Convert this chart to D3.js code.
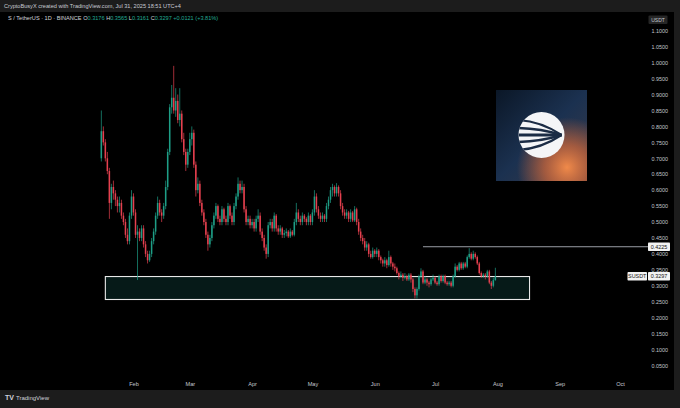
<!DOCTYPE html>
<html><head><meta charset="utf-8">
<script src="https://cdn.jsdelivr.net/npm/d3@7"></script>
<style>html,body{margin:0;padding:0;background:#1c1c1c;}svg{display:block;font-family:"Liberation Sans",Arial,sans-serif;}</style>
</head><body>
<svg id="c" width="680" height="408"></svg>
<script>
// ---- data ----
const firstDay = "2025-01-16";
const opens = [0.70,0.785,0.75,0.70,0.66,0.56,0.61,0.59,0.57,0.55,0.56,0.52,0.50,0.46,0.44,0.52,0.58,0.53,0.46,0.47,0.45,0.48,0.43,0.40,0.38,0.40,0.44,0.47,0.52,0.56,0.53,0.52,0.55,0.61,0.72,0.86,0.89,0.85,0.88,0.82,0.84,0.76,0.72,0.68,0.72,0.76,0.78,0.68,0.60,0.62,0.56,0.53,0.50,0.46,0.43,0.45,0.49,0.52,0.55,0.51,0.50,0.54,0.51,0.50,0.55,0.52,0.50,0.55,0.58,0.62,0.60,0.61,0.54,0.50,0.51,0.49,0.50,0.48,0.51,0.52,0.47,0.45,0.42,0.40,0.49,0.50,0.48,0.52,0.48,0.47,0.48,0.46,0.465,0.47,0.455,0.47,0.46,0.50,0.53,0.51,0.50,0.52,0.51,0.50,0.52,0.50,0.53,0.58,0.54,0.52,0.51,0.52,0.51,0.55,0.57,0.60,0.61,0.59,0.61,0.59,0.55,0.53,0.52,0.53,0.51,0.53,0.505,0.54,0.50,0.47,0.45,0.44,0.42,0.43,0.40,0.39,0.41,0.40,0.41,0.39,0.38,0.37,0.38,0.365,0.39,0.37,0.36,0.355,0.34,0.33,0.335,0.325,0.33,0.32,0.335,0.32,0.29,0.27,0.29,0.33,0.345,0.31,0.32,0.31,0.305,0.32,0.325,0.31,0.305,0.33,0.315,0.33,0.31,0.305,0.31,0.30,0.33,0.36,0.35,0.37,0.355,0.37,0.36,0.39,0.40,0.385,0.40,0.39,0.37,0.34,0.33,0.335,0.33,0.345,0.31,0.30,0.3176];
const highs = [0.85,0.80,0.76,0.72,0.67,0.62,0.63,0.60,0.58,0.58,0.57,0.53,0.51,0.48,0.53,0.60,0.59,0.54,0.49,0.48,0.49,0.49,0.44,0.41,0.41,0.45,0.48,0.53,0.58,0.57,0.54,0.56,0.63,0.73,0.87,0.93,0.99,0.92,0.90,0.92,0.85,0.78,0.73,0.73,0.78,0.80,0.79,0.69,0.64,0.63,0.57,0.54,0.51,0.47,0.46,0.50,0.53,0.56,0.555,0.52,0.55,0.545,0.52,0.56,0.555,0.53,0.56,0.59,0.64,0.63,0.63,0.62,0.55,0.52,0.52,0.51,0.51,0.52,0.54,0.53,0.48,0.46,0.43,0.50,0.51,0.51,0.53,0.525,0.49,0.49,0.485,0.475,0.48,0.475,0.48,0.475,0.51,0.56,0.54,0.52,0.53,0.525,0.515,0.53,0.525,0.54,0.60,0.59,0.55,0.53,0.53,0.525,0.56,0.58,0.61,0.62,0.615,0.622,0.615,0.60,0.56,0.54,0.54,0.535,0.54,0.535,0.55,0.545,0.51,0.48,0.46,0.45,0.44,0.435,0.41,0.42,0.415,0.42,0.415,0.395,0.385,0.39,0.385,0.41,0.395,0.375,0.37,0.36,0.345,0.345,0.34,0.34,0.335,0.34,0.34,0.325,0.295,0.295,0.335,0.355,0.35,0.33,0.325,0.315,0.325,0.335,0.33,0.315,0.335,0.335,0.335,0.335,0.315,0.315,0.315,0.335,0.37,0.365,0.375,0.375,0.375,0.375,0.395,0.418,0.405,0.41,0.405,0.395,0.375,0.345,0.34,0.34,0.35,0.35,0.315,0.325,0.3565];
const lows = [0.69,0.74,0.69,0.65,0.51,0.54,0.57,0.55,0.53,0.53,0.51,0.49,0.45,0.43,0.43,0.51,0.52,0.45,0.318,0.44,0.44,0.42,0.39,0.37,0.375,0.39,0.43,0.46,0.51,0.52,0.50,0.51,0.54,0.60,0.71,0.84,0.84,0.83,0.81,0.80,0.75,0.71,0.66,0.67,0.71,0.74,0.67,0.58,0.59,0.55,0.52,0.49,0.45,0.41,0.42,0.44,0.48,0.51,0.50,0.49,0.49,0.50,0.49,0.49,0.51,0.49,0.49,0.54,0.57,0.59,0.59,0.53,0.49,0.49,0.48,0.48,0.47,0.47,0.50,0.46,0.44,0.41,0.385,0.39,0.48,0.47,0.47,0.47,0.46,0.46,0.45,0.45,0.455,0.45,0.45,0.455,0.455,0.49,0.50,0.49,0.49,0.50,0.49,0.49,0.49,0.49,0.52,0.53,0.51,0.50,0.50,0.50,0.50,0.54,0.56,0.58,0.58,0.58,0.58,0.54,0.52,0.51,0.51,0.50,0.50,0.50,0.50,0.49,0.46,0.44,0.43,0.41,0.41,0.39,0.385,0.385,0.39,0.39,0.38,0.37,0.36,0.36,0.355,0.36,0.36,0.35,0.345,0.335,0.32,0.325,0.315,0.32,0.315,0.315,0.31,0.28,0.26,0.26,0.285,0.325,0.305,0.305,0.30,0.295,0.30,0.315,0.305,0.30,0.30,0.31,0.31,0.305,0.30,0.30,0.295,0.295,0.325,0.345,0.345,0.35,0.35,0.355,0.355,0.385,0.38,0.38,0.385,0.365,0.335,0.325,0.325,0.32,0.325,0.305,0.29,0.295,0.3161];
const closes = [0.785,0.75,0.70,0.66,0.56,0.61,0.59,0.57,0.55,0.56,0.52,0.50,0.46,0.44,0.52,0.58,0.53,0.46,0.47,0.45,0.48,0.43,0.40,0.38,0.40,0.44,0.47,0.52,0.56,0.53,0.52,0.55,0.61,0.72,0.86,0.89,0.85,0.88,0.82,0.84,0.76,0.72,0.68,0.72,0.76,0.78,0.68,0.60,0.62,0.56,0.53,0.50,0.46,0.43,0.45,0.49,0.52,0.55,0.51,0.50,0.54,0.51,0.50,0.55,0.52,0.50,0.55,0.58,0.62,0.60,0.61,0.54,0.50,0.51,0.49,0.50,0.48,0.51,0.52,0.47,0.45,0.42,0.40,0.49,0.50,0.48,0.52,0.48,0.47,0.48,0.46,0.465,0.47,0.455,0.47,0.46,0.50,0.53,0.51,0.50,0.52,0.51,0.50,0.52,0.50,0.53,0.58,0.54,0.52,0.51,0.52,0.51,0.55,0.57,0.60,0.61,0.59,0.61,0.59,0.55,0.53,0.52,0.53,0.51,0.53,0.505,0.54,0.50,0.47,0.45,0.44,0.42,0.43,0.40,0.39,0.41,0.40,0.41,0.39,0.38,0.37,0.38,0.365,0.39,0.37,0.36,0.355,0.34,0.33,0.335,0.325,0.33,0.32,0.335,0.32,0.29,0.27,0.29,0.33,0.345,0.31,0.32,0.31,0.305,0.32,0.325,0.31,0.305,0.33,0.315,0.33,0.31,0.305,0.31,0.30,0.33,0.36,0.35,0.37,0.355,0.37,0.36,0.39,0.40,0.385,0.40,0.39,0.37,0.34,0.33,0.335,0.33,0.345,0.31,0.30,0.3176,0.3297];
const monthTicks = ["2025-02-01","2025-03-01","2025-04-01","2025-05-01","2025-06-01","2025-07-01","2025-08-01","2025-09-01","2025-10-01"];
const priceTicks = [0.05,0.10,0.15,0.20,0.25,0.30,0.35,0.40,0.45,0.50,0.55,0.60,0.65,0.70,0.75,0.80,0.85,0.90,0.95,1.00,1.05,1.10];
const zoneDates = ["2025-01-18","2025-08-17"];
const zonePrices = [0.329,0.257];
const levelStart = "2025-06-25";
const levelPrice = 0.4225;
const lastPrice = 0.3297;
const headerText = "CryptoBusyX created with TradingView.com, Jul 31, 2025 18:51 UTC+4";
const symbolParts = [["S / TetherUS · 1D · BINANCE  ","#d1d4dc"],["O","#d1d4dc"],["0.3176","#22ab94"],[" H","#d1d4dc"],["0.3565","#22ab94"],[" L","#d1d4dc"],["0.3161","#22ab94"],[" C","#d1d4dc"],["0.3297","#22ab94"],[" +0.0121 (+3.81%)","#22ab94"]];

// ---- drawing ----
const svg = d3.select("#c");
const parse = d3.utcParse("%Y-%m-%d");
const up = "#1e9e86", down = "#e5404f";
const x = d3.scaleUtc().domain([parse("2025-02-01"), parse("2025-10-01")]).range([133.5, 620]);
const y = d3.scaleLinear().domain([0, 1.1]).range([381.4, 30.8]);
const start = parse(firstDay);
const days = d3.utcDay.range(start, d3.utcDay.offset(start, closes.length));
const candles = days.map((d, i) => ({d, o: opens[i], h: highs[i], l: lows[i], c: closes[i]}));

svg.append("rect").attr("width",680).attr("height",408).attr("fill","#1c1c1c");
svg.append("rect").attr("x",0).attr("y",12).attr("width",674).attr("height",378).attr("fill","#000");

svg.append("text").attr("x",4).attr("y",7.6).attr("fill","#c8cbd3").attr("font-size",5.6).text(headerText);
const st = svg.append("text").attr("x",8).attr("y",20).attr("font-size",5.6);
symbolParts.forEach(p => st.append("tspan").attr("fill", p[1]).text(p[0]));

// zone rectangle
svg.append("rect")
  .attr("x", x(parse(zoneDates[0]))).attr("y", y(zonePrices[0]))
  .attr("width", x(parse(zoneDates[1])) - x(parse(zoneDates[0])))
  .attr("height", y(zonePrices[1]) - y(zonePrices[0]))
  .attr("fill", "rgba(20,95,85,0.28)").attr("stroke", "#e8e8e8").attr("stroke-width", 1.1);

// level line
svg.append("line").attr("x1", x(parse(levelStart))).attr("x2", 648)
  .attr("y1", y(levelPrice)).attr("y2", y(levelPrice)).attr("stroke","#9a9da5").attr("stroke-width",1);

// candles
const g = svg.append("g");
g.selectAll("line.w").data(candles).join("line").attr("class","w")
  .attr("x1", d => x(d.d)).attr("x2", d => x(d.d))
  .attr("y1", d => y(d.h)).attr("y2", d => y(d.l))
  .attr("stroke", d => d.c >= d.o ? up : down).attr("stroke-width", 0.7);
g.selectAll("rect.b").data(candles).join("rect").attr("class","b")
  .attr("x", d => x(d.d) - 0.75).attr("width", 1.5)
  .attr("y", d => y(Math.max(d.o, d.c)))
  .attr("height", d => Math.max(0.7, Math.abs(y(d.o) - y(d.c))))
  .attr("fill", d => d.c >= d.o ? up : down);

// price axis
const ya = svg.append("g").attr("transform","translate(668,0)")
  .call(d3.axisRight(y).tickValues(priceTicks).tickFormat(d3.format(".4f")).tickSize(0).tickPadding(0));
ya.select(".domain").remove();
ya.selectAll("text").attr("text-anchor","end").attr("fill","#c4c7cf").attr("font-size",5.4)
  .attr("font-family","Liberation Sans, Arial, sans-serif");

// time axis
const xa = svg.append("g").attr("transform","translate(0,382)")
  .call(d3.axisBottom(x).tickValues(monthTicks.map(parse)).tickFormat(d3.utcFormat("%b")).tickSize(0).tickPadding(0));
xa.select(".domain").remove();
xa.selectAll("text").attr("fill","#c4c7cf").attr("font-size",5.6).attr("font-family","Liberation Sans, Arial, sans-serif");

// USDT box
svg.append("rect").attr("x",648.5).attr("y",15.5).attr("width",19).attr("height",8.5).attr("rx",1).attr("fill","#262626");
svg.append("text").attr("x",658).attr("y",21.6).attr("text-anchor","middle").attr("fill","#c4c7cf").attr("font-size",5).text("USDT");

// price tags
function tag(x0, w, yv, txt){
  svg.append("rect").attr("x",x0).attr("y",y(yv)-4.2).attr("width",w).attr("height",8.4).attr("rx",0.8).attr("fill","#f2f2f2");
  svg.append("text").attr("x",x0+w/2).attr("y",y(yv)+2).attr("text-anchor","middle").attr("fill","#111").attr("font-size",5.4).text(txt);
}
tag(648, 22, levelPrice, d3.format(".4f")(levelPrice));
tag(627.5, 19.5, lastPrice, "SUSDT");
tag(648, 22, lastPrice, d3.format(".4f")(lastPrice));

// logo
const defs = svg.append("defs");
const lg = defs.append("linearGradient").attr("id","lg").attr("x1","0").attr("y1","0").attr("x2","1").attr("y2","1");
lg.append("stop").attr("offset","0").attr("stop-color","#0b1727");
lg.append("stop").attr("offset","0.5").attr("stop-color","#1b3150");
lg.append("stop").attr("offset","1").attr("stop-color","#3a3a48");
const rg = defs.append("radialGradient").attr("id","rg").attr("cx","0.78").attr("cy","0.85").attr("r","0.55");
rg.append("stop").attr("offset","0").attr("stop-color","#f08a4a").attr("stop-opacity",1);
rg.append("stop").attr("offset","0.45").attr("stop-color","#d66a3a").attr("stop-opacity",0.7);
rg.append("stop").attr("offset","1").attr("stop-color","#d66a3a").attr("stop-opacity",0);
svg.append("rect").attr("x",496).attr("y",90).attr("width",91).attr("height",91).attr("fill","url(#lg)");
svg.append("rect").attr("x",496).attr("y",90).attr("width",91).attr("height",91).attr("fill","url(#rg)");
const cx = 541.5, cy = 135, r = 23;
defs.append("clipPath").attr("id","cc").append("circle").attr("cx",cx).attr("cy",cy).attr("r",r);
svg.append("circle").attr("cx",cx).attr("cy",cy).attr("r",r).attr("fill","#f4f5f7");
const lg2 = svg.append("g").attr("clip-path","url(#cc)").attr("fill","none").attr("stroke","#1b2c45");
lg2.append("path").attr("d",`M${cx-r} ${cy} L${cx+r-3} ${cy}`).attr("stroke-width",3);
[[-7,2.4],[-15,2.2],[7,2.4],[15,2.2]].forEach(([dy,w]) => {
  lg2.append("path").attr("d",`M${cx-r} ${cy+dy} Q${cx} ${cy+dy*0.9} ${cx+r-3} ${cy}`).attr("stroke-width",w);
});

// bottom TradingView mark
svg.append("text").attr("x",5).attr("y",400).attr("fill","#d1d4dc").attr("font-size",7).attr("font-weight","bold").text("TV");
svg.append("text").attr("x",16).attr("y",400).attr("fill","#d1d4dc").attr("font-size",6).text("TradingView");
</script>
</body></html>
